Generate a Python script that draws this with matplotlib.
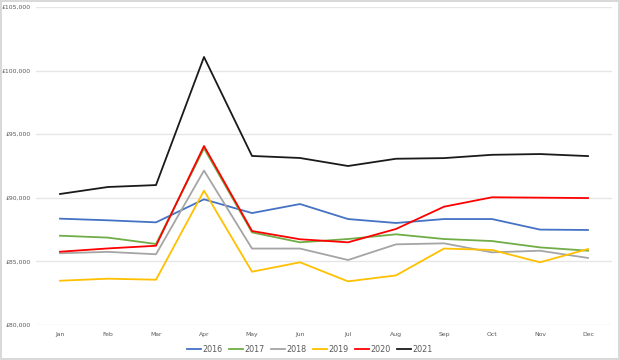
import numpy as np
from matplotlib import pyplot as plt
from matplotlib.ticker import FuncFormatter

months = ['Jan', 'Feb', 'Mar', 'Apr', 'May', 'Jun', 'Jul', 'Aug', 'Sep', 'Oct', 'Nov', 'Dec']

y2016 = [88360, 88230, 88070, 89880, 88800, 89510, 88330, 88020, 88330, 88330, 87500, 87470]
y2017 = [87020, 86870, 86370, 93890, 87280, 86500, 86760, 87130, 86760, 86600, 86100, 85840]
y2018 = [85640, 85750, 85560, 92140, 86010, 86010, 85110, 86340, 86420, 85710, 85840, 85270]
y2019 = [83480, 83640, 83560, 90560, 84190, 84930, 83430, 83900, 86010, 85900, 84930, 85970]
y2020 = [85760, 86020, 86230, 94070, 87390, 86740, 86500, 87550, 89300, 90040, 90010, 89980]
y2021 = [90300, 90850, 91000, 101070, 93290, 93130, 92500, 93070, 93120, 93380, 93440, 93280]

series = [
    ('2016', y2016, '#4472C4'),
    ('2017', y2017, '#70AD47'),
    ('2018', y2018, '#A5A5A5'),
    ('2019', y2019, '#FFC000'),
    ('2020', y2020, '#FF0000'),
    ('2021', y2021, '#1A1A1A'),
]

text_col = '#595959'

fig = plt.figure(figsize=(6.2, 3.6), dpi=100)
fig.patch.set_edgecolor('#D9D9D9')
fig.patch.set_linewidth(1.5)
ax = fig.add_axes([36 / 620, 1 - 325 / 360, 576 / 620, 318 / 360])

x = np.arange(len(months))
for name, vals, col in series:
    ax.plot(x, vals, color=col, lw=1.3, label=name, solid_joinstyle='round')

ax.set_xlim(-0.5, len(months) - 0.5)
ax.set_ylim(80000, 105000)
ax.set_yticks(np.arange(80000, 105001, 5000))
ax.yaxis.set_major_formatter(FuncFormatter(lambda v, p: '£{:,.0f}'.format(v)))
ax.set_xticks(x)
ax.set_xticklabels(months)

ax.grid(axis='y', color='#E6E6E6', lw=1.0)
ax.set_axisbelow(True)
for s in ax.spines.values():
    s.set_visible(False)
ax.tick_params(axis='both', length=0, labelsize=4.4, labelcolor=text_col)
ax.tick_params(axis='x', pad=5)
ax.tick_params(axis='y', pad=4)

leg = fig.legend(loc='center', bbox_to_anchor=(0.5, 1 - 349 / 360), ncol=6, frameon=False,
                 fontsize=5.8, handlelength=1.7, handletextpad=0.2, columnspacing=0.8)
for t in leg.get_texts():
    t.set_color(text_col)

fig.savefig('out.png', dpi=100)
